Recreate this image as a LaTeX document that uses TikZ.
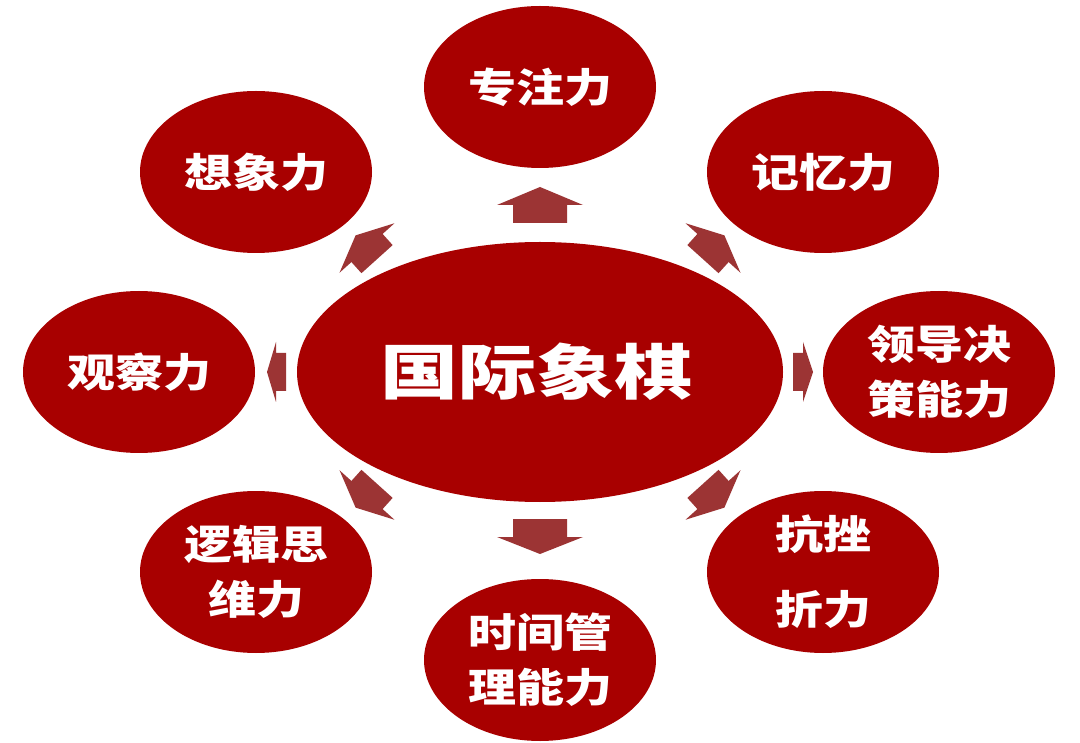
\documentclass[tikz,border=0pt]{standalone}
\usepackage{fontspec}
\usetikzlibrary{shapes.geometric}
\newfontfamily\cjkw[FakeStretch=1.2]{Noto Sans CJK SC}
\newfontfamily\cjkc[FakeStretch=1.3]{Noto Sans CJK SC}
\definecolor{ellred}{RGB}{168,0,0}
\definecolor{arrowred}{RGB}{156,52,52}
\tikzset{
  ell/.style={ellipse, fill=ellred, draw=none, inner sep=0pt, text=white,
    minimum width=232pt, minimum height=162pt, align=center,
    font=\cjkw\bfseries\fontsize{40}{55}\selectfont},
  pics/blockarrow/.style n args={4}{code={
    \fill[arrowred] (-#1,-#2) -- (0,-#2) -- (0,-#3) -- (#4,0) -- (0,#3) -- (0,#2) -- (-#1,#2) -- cycle;}}
}
\begin{document}
\begin{tikzpicture}[x=1pt,y=-1pt]
\useasboundingbox[fill=white] (0,0) rectangle (1080,743);
% central
\node[ell, minimum width=486pt, minimum height=260pt,
  font=\cjkc\bfseries\fontsize{60}{62}\selectfont] (c) at (540,372) {\hspace*{-8pt}国际象棋};
% outer
\node[ell] (t)  at (540,87)  {专注力};
\node[ell] (ul) at (256,172) {想象力};
\node[ell] (ur) at (823,172) {记忆力};
\node[ell] (l)  at (139,372) {观察力};
\node[ell] (r)  at (939,372) {领导决\\策能力};
\node[ell] (ll) at (256,572) {逻辑思\\维力};
\node[ell] (b)  at (540,660) {时间管\\理能力};
\node[ell, font=\cjkw\bfseries\fontsize{40}{75}\selectfont] (lr) at (823,572) {抗挫\\折力};
% arrows
\pic[rotate=90]  (at) at (540,205) {blockarrow={18}{27}{43}{18}};
\pic[rotate=-90] (ab) at (540,537) {blockarrow={18}{27}{43}{17}};
\pic[rotate=180] (al) at (276,372) {blockarrow={10}{19}{30}{9}};
\pic[rotate=0]   (ar) at (803,372) {blockarrow={10}{19}{30}{10}};
\pic[rotate=48]  (aur) at (713,248) {blockarrow={15}{21}{37}{17}};
\pic[rotate=132] (aul) at (367,248) {blockarrow={15}{21}{37}{17}};
\pic[rotate=228] (all) at (367,495) {blockarrow={15}{21}{37}{17}};
\pic[rotate=-48] (alr) at (713,495) {blockarrow={15}{21}{37}{17}};
\end{tikzpicture}
\end{document}
